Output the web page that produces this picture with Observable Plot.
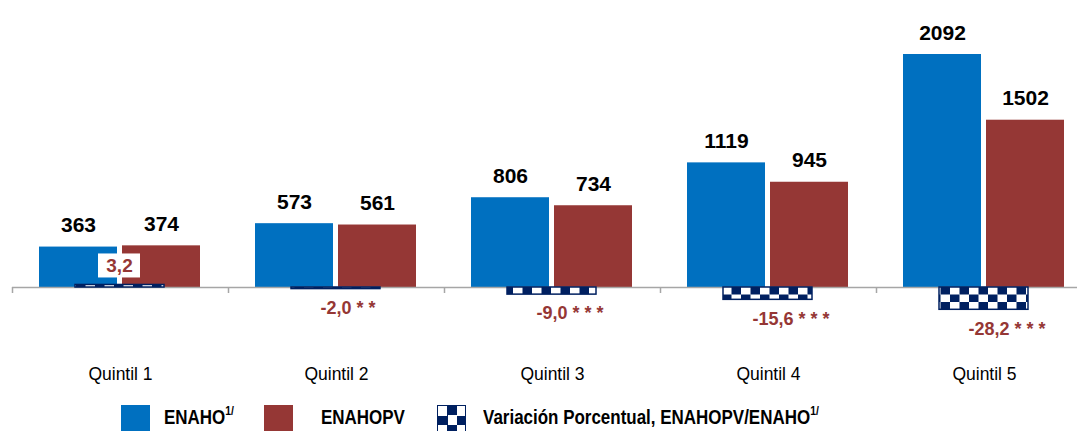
<!DOCTYPE html>
<html>
<head>
<meta charset="utf-8">
<script src="https://cdn.jsdelivr.net/npm/d3@7"></script>
<script src="https://cdn.jsdelivr.net/npm/@observablehq/plot@0.6"></script>
<style>
  html, body { margin: 0; padding: 0; background: #fff; }
  #wrap { position: relative; width: 1077px; height: 431px; overflow: hidden; font-family: "Liberation Sans", Arial, sans-serif; }
  #chart svg { display: block; }
  #legend { position: relative; width: 1077px; height: 31px; }
  #legend .sw { position: absolute; top: 5px; width: 29px; height: 26px; box-sizing: border-box; }
  #legend .chk { border: 1px solid #002060; border-bottom: none; background-image: repeating-conic-gradient(#002060 0% 25%, #ffffff 0% 50%); background-size: 19px 19px; }
  #legend .lt { position: absolute; top: 7px; font-weight: bold; font-size: 19.5px; line-height: 20px; white-space: nowrap; color: #000; transform: scaleX(0.87); transform-origin: 0 0; }
  #legend .sup { font-size: 12px; position: relative; top: -9px; line-height: 0; }
</style>
</head>
<body>
<div id="wrap">
  <div id="chart"></div>
  <div id="legend"></div>
</div>
<script>
// ---- data ----
const quintiles = ["Quintil 1", "Quintil 2", "Quintil 3", "Quintil 4", "Quintil 5"];
const enaho = [363, 573, 806, 1119, 2092];
const enahopv = [374, 561, 734, 945, 1502];
const variacion = [3.2, -2.0, -9.0, -15.6, -28.2];
const significancia = ["", "**", "***", "***", "***"];
const seriesNames = ["ENAHO", "ENAHOPV"];
const variacionName = "Variación Porcentual, ENAHOPV/ENAHO";
const colors = { ENAHO: "#0070C0", ENAHOPV: "#953735", pct: "#002060", pctText: "#953735" };

// secondary-axis factor: y units per percentage point
const pctScale = 7.1;

const rows = quintiles.map((q, i) => ({
  q, enaho: enaho[i], enahopv: enahopv[i], pct: variacion[i], sig: significancia[i]
}));
const fmtPct = v => v.toFixed(1).replace(".", ",");
const pctLabel = d => fmtPct(d.pct) + (d.sig ? " " + d.sig.split("").join(" ") : "");
const posRows = rows.filter(d => d.pct > 0);
const negRows = rows.filter(d => d.pct < 0);

const bandW = (1092 - 12) / quintiles.length;
const posDx = -1, posDy = -19;

const plot = Plot.plot({
  width: 1077,
  height: 400,
  marginTop: 54,
  marginBottom: 113,
  marginLeft: 12,
  marginRight: 0,
  style: { fontFamily: "'Liberation Sans', Arial, sans-serif", background: "#fff", overflow: "visible" },
  x: { type: "band", domain: quintiles, range: [12, 1092], paddingInner: 0, paddingOuter: 0, label: null },
  y: { domain: [0, d3.max(enaho)], axis: null, label: null },
  marks: [
    Plot.barY(rows, { x: "q", y: "enaho", fill: colors.ENAHO, insetLeft: 27, insetRight: 111 }),
    Plot.barY(rows, { x: "q", y: "enahopv", fill: colors.ENAHOPV, insetLeft: 110, insetRight: 28 }),
    Plot.ruleY([0], { stroke: "#a6a6a6", strokeWidth: 1.5 }),
    Plot.axisX({ tickSize: 6, tickFormat: () => "", dx: -bandW / 2, stroke: "#a6a6a6", strokeWidth: 1.5 }),
    Plot.axisX({ tickSize: 0, tickPadding: 80, fontSize: 17.5, fill: "#000" }),
    Plot.barY(rows, { x: "q", y: d => d.pct * pctScale, fill: "url(#checker)", stroke: colors.pct, strokeWidth: 1.5, insetLeft: 63, insetRight: 64 }),
    Plot.text(rows, { x: "q", y: "enaho", text: d => String(d.enaho), dx: -42, dy: -15, lineAnchor: "bottom", fontSize: 21, fontWeight: "bold", fill: "#000" }),
    Plot.text(rows, { x: "q", y: "enahopv", text: d => String(d.enahopv), dx: 41, dy: -15, lineAnchor: "bottom", fontSize: 21, fontWeight: "bold", fill: "#000" }),
    Plot.text(posRows, { x: "q", y: d => d.pct * pctScale, text: pctLabel, dx: posDx, dy: posDy, lineAnchor: "middle", fontSize: 19, fontWeight: "bold", fill: colors.pctText }),
    Plot.text(negRows, { x: "q", y: d => d.pct * pctScale, text: pctLabel, textAnchor: "start", dx: -16, dy: 19, lineAnchor: "middle", fontSize: 18, fontWeight: "bold", fill: colors.pctText })
  ]
});

// checker pattern definition
const y0 = plot.scale("y").apply(0);
const defs = d3.select(plot).insert("defs", ":first-child");
const pat = defs.append("pattern").attr("id", "checker").attr("patternUnits", "userSpaceOnUse")
  .attr("x", 0).attr("y", y0).attr("width", 19).attr("height", 15);
pat.append("rect").attr("width", 19).attr("height", 15).attr("fill", "#fff");
pat.append("rect").attr("x", 9.5).attr("y", 0).attr("width", 9.5).attr("height", 7.5).attr("fill", colors.pct);
pat.append("rect").attr("x", 0).attr("y", 7.5).attr("width", 9.5).attr("height", 7.5).attr("fill", colors.pct);

document.getElementById("chart").appendChild(plot);

// white label box behind the positive percentage label (positioned via the plot's scales)
const xs = plot.scale("x"), ys = plot.scale("y");
const posLabels = new Set(posRows.map(pctLabel));
const textEls = Array.from(plot.querySelectorAll("text")).filter(t => posLabels.has(t.textContent));
if (textEls.length) {
  const g = textEls[0].parentNode;
  const boxG = document.createElementNS("http://www.w3.org/2000/svg", "g");
  for (const d of posRows) {
    const cx = xs.apply(d.q) + xs.bandwidth / 2 + posDx;
    const cy = ys.apply(d.pct * pctScale) + posDy;
    const r = document.createElementNS("http://www.w3.org/2000/svg", "rect");
    r.setAttribute("x", cx - 21);
    r.setAttribute("y", cy - 12);
    r.setAttribute("width", 42);
    r.setAttribute("height", 24);
    r.setAttribute("fill", "#fff");
    boxG.appendChild(r);
  }
  g.parentNode.insertBefore(boxG, g);
}

// legend
const legend = document.getElementById("legend");
const items = [
  { left: 121, cls: "sw", color: colors.ENAHO },
  { left: 164, cls: "lt", html: seriesNames[0] + '<span class="sup">1/</span>' },
  { left: 264, cls: "sw", color: colors.ENAHOPV },
  { left: 321, cls: "lt", html: seriesNames[1] },
  { left: 437, cls: "sw chk" },
  { left: 483, cls: "lt", html: variacionName + '<span class="sup">1/</span>' }
];
for (const it of items) {
  const el = document.createElement("span");
  el.className = it.cls;
  el.style.left = it.left + "px";
  if (it.color) el.style.background = it.color;
  if (it.html) el.innerHTML = it.html;
  legend.appendChild(el);
}
</script>
</body>
</html>
